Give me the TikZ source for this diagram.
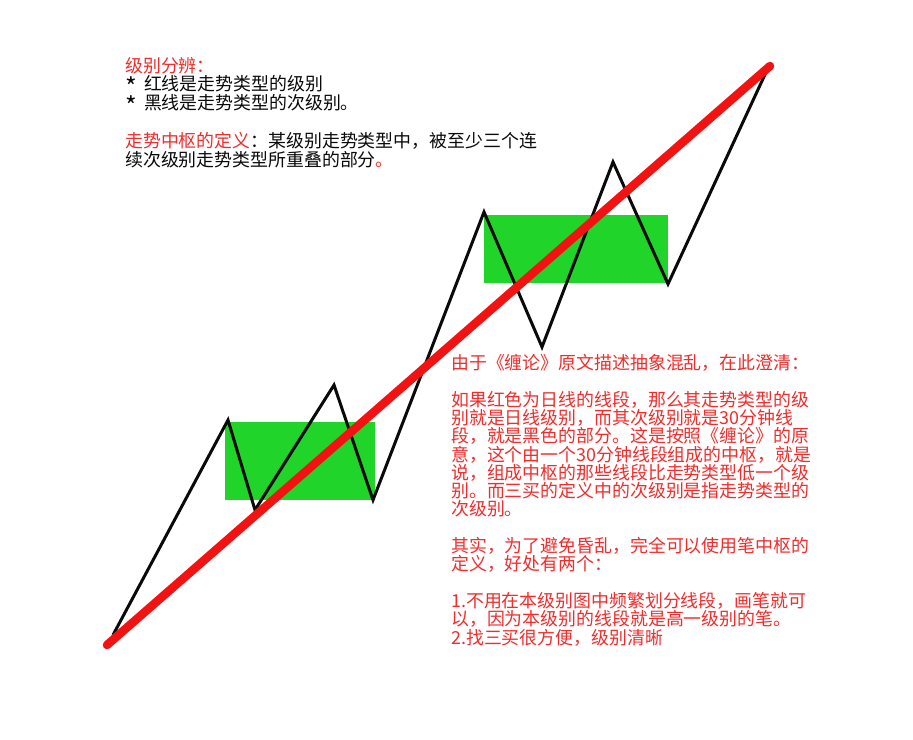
\documentclass[tikz,border=0pt]{standalone}
\usepackage{fontspec}
\setmainfont{Noto Sans CJK SC}
\usetikzlibrary{positioning}
\definecolor{TrendRed}{HTML}{F21212}
\definecolor{HubGreen}{HTML}{20D42A}
\definecolor{NoteRed}{HTML}{F22C2C}
\definecolor{InkBlack}{HTML}{0A0A0A}
\newcommand{\bulletstar}{\smash{\raisebox{-0.32em}{\fontsize{25}{25}\selectfont*}}\hspace{0.4em}}

\begin{document}
\begin{tikzpicture}[x=1pt,y=-1pt,
    note/.style={anchor=base west,align=left,inner sep=0pt,
      font=\fontsize{17.9}{18.8}\selectfont},
    hub/.style={fill=HubGreen,draw=none},
    stroke/.style={line width=3pt,InkBlack,line join=miter},
    trend/.style={line width=8.5pt,TrendRed,line cap=round}]
  \fill[white] (0,0) rectangle (913,739);
  \useasboundingbox (0,0) rectangle (913,739);
  % hubs
  \fill[hub] (225,422) rectangle (375,500);
  \fill[hub] (484,215) rectangle (668,283);
  % sub-level segments
  \foreach \n/\x/\y in {0/113/635,1/228/420,2/255/510,3/334/385,4/373/500,
      5/484/212,6/542/347,7/613/162,8/668/284,9/768/68}
    \coordinate (p\n) at (\x,\y);
  \draw[stroke] (p0) -- (p1) -- (p2) -- (p3) -- (p4) -- (p5) -- (p6) -- (p7) -- (p8) -- (p9);
  % trend line
  \coordinate (t0) at (107,645);
  \coordinate (t1) at (770,66);
  \draw[trend] (t0) -- (t1);
  % notes (anchored on the last baseline)
  \node[note,text=InkBlack] (levels) at (125,166)
    {\textcolor{NoteRed}{级别分辨：}\\
     \bulletstar 红线是走势类型的级别\\
     \bulletstar 黑线是走势类型的次级别。\\[18.8pt]
     \textcolor{NoteRed}{走势中枢的定义}：某级别走势类型中，被至少三个连\\
     续次级别走势类型所重叠的部分\textcolor{NoteRed}{。}};
  \node[note,text=NoteRed,font=\fontsize{17.9}{18.3}\selectfont] (clarify) at (451,644)
    {由于《缠论》原文描述抽象混乱，在此澄清：\\[18.3pt]
     如果红色为日线的线段，那么其走势类型的级\\
     别就是日线级别，而其次级别就是30分钟线\\
     段，就是黑色的部分。这是按照《缠论》的原\\
     意，这个由一个30分钟线段组成的中枢，就是\\
     说，组成中枢的那些线段比走势类型低一个级\\
     别。而三买的定义中的次级别是指走势类型的\\
     次级别。\\[18.3pt]
     其实，为了避免昏乱，完全可以使用笔中枢的\\
     定义，好处有两个：\\[18.3pt]
     1.不用在本级别图中频繁划分线段，画笔就可\\
     以，因为本级别的线段就是高一级别的笔。\\
     2.找三买很方便，级别清晰};
\end{tikzpicture}
\end{document}
